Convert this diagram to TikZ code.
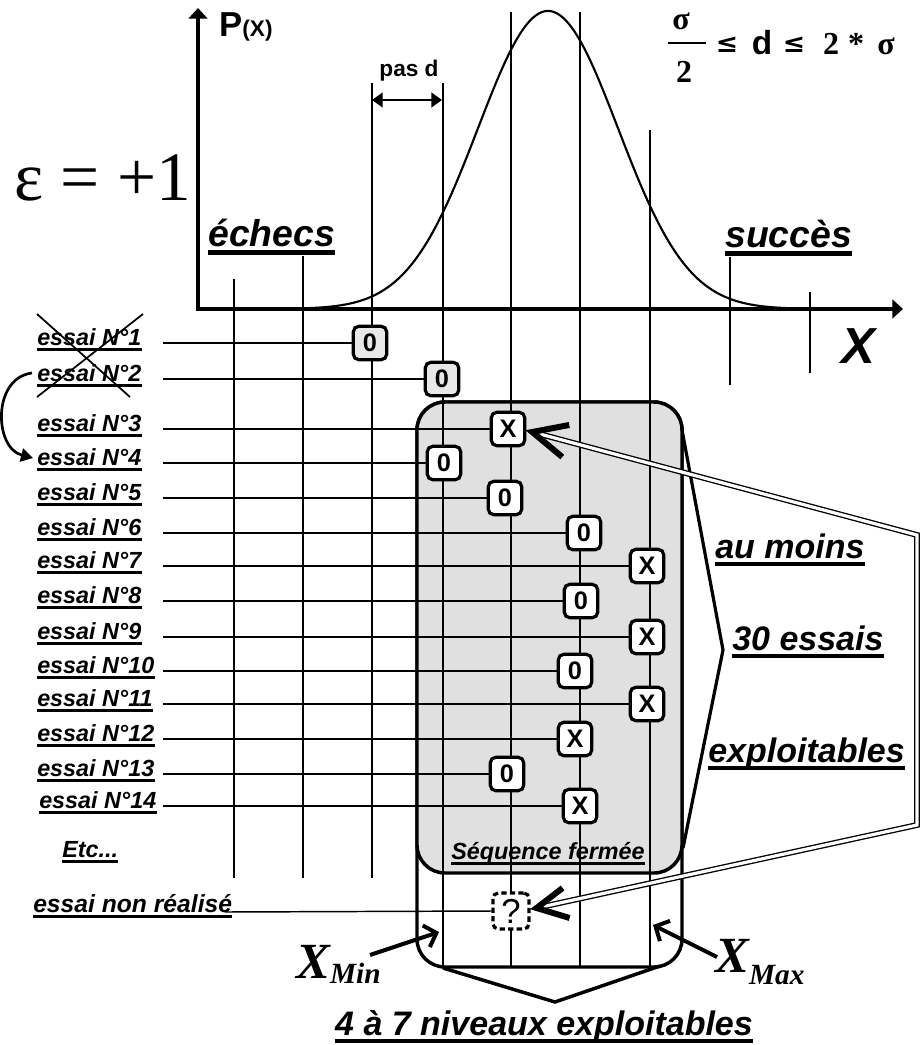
\documentclass[tikz,border=0pt]{standalone}
\usepackage{fontspec}
\setmainfont{Liberation Sans}
\newfontfamily\tnr{Liberation Serif}
\newfontfamily\dvs{DejaVu Serif}
\usetikzlibrary{arrows.meta,calc}
\pgfdeclarelayer{panel}
\pgfdeclarelayer{back}
\pgfsetlayers{panel,back,main}
\newcommand\ul[1]{\setbox0\hbox{#1}\rlap{\rule[-0.24em]{\wd0}{0.12em}}\box0}
\newcommand\fsz[1]{\fontsize{#1}{#1}\selectfont}
\begin{document}
\begin{tikzpicture}[x=0.75pt,y=-0.75pt,
  lbl/.style={anchor=base west, inner sep=0pt, font=\fsz{17.5}\bfseries\itshape},
  head/.style={anchor=base west, inner sep=0pt, font=\fsz{28}\bfseries\itshape},
  big/.style={anchor=base west, inner sep=0pt, font=\fsz{25.5}\bfseries\itshape},
  trial/.style={draw, line width=2.4pt, rounded corners=4pt, minimum size=25pt, inner sep=0pt, font=\fsz{19}\bfseries, fill=white},
  trialgrey/.style={trial, fill=black!9},
  col/.style={line width=1.5pt},
  row/.style={line width=1.1pt},
  uline/.style={line width=2.1pt},
  panelline/.style={line width=2.6pt, rounded corners=21pt},
  fb/.style={anchor=base, inner sep=0pt, font=\tnr\bfseries\fsz{24}},
  dbl/.style={double=white, double distance=2.4pt, line width=1pt},
  barb/.style={line width=4.5pt, line cap=butt, line join=miter},
  xarrow/.style={line width=3pt, -{Straight Barb[length=8pt,width=17pt]}},
  xsym/.style={anchor=base west, inner sep=0pt, font=\tnr\bfseries\itshape\fsz{38}}
]
\useasboundingbox (0,0) rectangle (920,1045);

% ---------- panels ----------
\begin{pgfonlayer}{panel}
  \draw[panelline, fill=white] (417,402) rectangle (682,967);
  \draw[panelline, fill=black!12] (417,402) rectangle (682,873);
\end{pgfonlayer}

% ---------- axes and curve ----------
\draw[line width=2.4pt, {Triangle[length=8pt,width=14pt]}-{Triangle[length=8pt,width=14pt]}]
  (198,8) -- (198,309) -- (903,309);
\draw[line width=1.6pt] plot[domain=290:800, samples=200, smooth]
  (\x,{309-298*exp(-0.5*pow((\x-548)/70,2))});

% ---------- trial boxes ----------
\node[trialgrey] (b1) at (370,343) {0};
\node[trialgrey] (b2) at (442,379) {0};
\node[trial] (b3) at (508,429) {X};
\node[trial] (b4) at (444,463) {0};
\node[trial] (b5) at (505,498) {0};
\node[trial] (b6) at (584,533) {0};
\node[trial] (b7) at (647,566) {X};
\node[trial] (b8) at (581,601) {0};
\node[trial] (b9) at (647,637) {X};
\node[trial] (b10) at (575,671) {0};
\node[trial] (b11) at (647,704) {X};
\node[trial] (b12) at (575,739) {X};
\node[trial] (b13) at (507,774) {0};
\node[trial] (b14) at (580,806) {X};
\node[trial, dashed, dash pattern=on 4pt off 2.4pt, minimum size=27pt, font=\fsz{26}] (q) at (511,911) {?};

% ---------- grid lines ----------
\begin{pgfonlayer}{back}
  \foreach \cx/\ya/\yb in {234/279/878, 303/256/878, 372/83/878, 443/83/967,
      511/12/967, 580/12/967, 650/130/967, 730/257/385, 810/292/373}
    \draw[col] (\cx,\ya) -- (\cx,\yb);
  \foreach \i/\y in {1/343,2/379,3/429,4/463,5/498,6/533,7/566,8/601,9/637,10/671,11/704,12/739,13/774,14/806}
    \draw[row] (163,\y) coordinate (r\i) -- (b\i.west);
  \coordinate (rq) at (225,912);
  \draw[row] (rq) -- (q.west);
\end{pgfonlayer}

% ---------- trial labels ----------
\foreach \i/\y in {1/343,2/379,3/429,4/463,5/498,6/533,7/566,8/601,9/637,10/671,11/704,12/739,13/774}{
  \node[lbl] (l\i) at (37,\y+2) {essai N°\i};
  \draw[uline] ([yshift=-3.4pt]l\i.base west) -- ([yshift=-3.4pt]l\i.base east);
}
\node[lbl] (l14) at (39,808) {essai N°14};
\draw[uline] ([yshift=-3.4pt]l14.base west) -- ([yshift=-3.4pt]l14.base east);
\node[lbl] (etc) at (62,857) {\ul{Etc...}};
\node[lbl, font=\fsz{18.5}\bfseries\itshape] (lq) at (33,912) {\ul{essai non réalisé}};

% cross over trials 1 and 2
\draw[line width=1.3pt] (37,314) -- (130,397);
\draw[line width=1.3pt] (143,314) -- (37,397);

% curved arrow from trial 2 to trial 4
\coordinate (ca) at (32,373);
\coordinate (cb) at (33,458);
\draw[line width=2pt, -{Triangle[length=9pt,width=10pt]}]
  (ca) .. controls (-8,378) and (-6,448) .. (cb);

% ---------- top labels ----------
\node[anchor=base west, inner sep=0pt, font=\fsz{26}\bfseries] (px) at (219,37) {P\fsz{17}(X)};
\node[anchor=base west, inner sep=0pt, font=\tnr\fsz{52}] (eps) at (14,200) {ε = +1};
\node[anchor=base, inner sep=0pt, font=\fsz{17}\bfseries] (pasd) at (409,77) {pas d};
\coordinate (pa) at (372,100);
\coordinate (pb) at (442,100);
\draw[line width=1.8pt, {Triangle[length=8pt,width=11pt]}-{Triangle[length=8pt,width=11pt]}] (pa) -- (pb);
\node[head] (ech) at (208,246) {\ul{échecs}};
\node[head] (suc) at (725,247) {\ul{succès}};
\node[anchor=base, inner sep=0pt, font=\fsz{38}\bfseries\itshape] (xl) at (858,363) {X};

% formula
\node[fb] (s1) at (681,30) {σ};
\draw[line width=1.6pt] (668,43) -- (706,43);
\node[fb] (s2) at (684,83) {2};
\node[anchor=base, inner sep=0pt, font=\dvs\bfseries\fsz{20}] (le1) at (727,53) {≤};
\node[anchor=base, inner sep=0pt, font=\bfseries\fsz{25}] (dd) at (762,55) {d};
\node[anchor=base, inner sep=0pt, font=\dvs\bfseries\fsz{20}] (le2) at (794,53) {≤};
\node[fb] (two) at (831,55) {2};
\node[fb] (star) at (856,55) {*};
\node[fb] (s3) at (886,55) {σ};

% ---------- right bracket and texts ----------
\draw[line width=2.4pt] (682,430) -- (723,650) -- (683,848);
\node[big] (t1) at (715,558) {\ul{au moins}};
\node[big] (t2) at (732,650) {\ul{30 essais}};
\node[big] (t3) at (708,762) {\ul{exploitables}};

% double connectors
\coordinate (tipA) at ($(b3.east)+(6,3)$);
\coordinate (tipB) at ($(q.east)+(6,-3)$);
\coordinate (c1) at (917,535);
\coordinate (c2) at (917,825);
\draw[dbl] (tipA) -- (c1) -- (c2) -- (tipB);
\draw[barb] ($(tipA)+(37,-7)$) -- (tipA) -- ($(tipA)+(30,25)$);
\draw[barb] ($(tipB)+(26,-20)$) -- (tipB) -- ($(tipB)+(33,10)$);

% ---------- bottom ----------
\node[anchor=base, inner sep=0pt, font=\fsz{17.5}\bfseries\itshape] (seq) at (548,859) {\ul{Séquence fermée}};
\draw[line width=2.6pt] (443,968) -- (555,1002) -- (660,966);
\node[anchor=base, inner sep=0pt, font=\fsz{25.5}\bfseries\itshape] (niv) at (544,1035) {\ul{4 à 7 niveaux exploitables}};
\node[xsym] (xmin) at (296,978) {X\fsz{22}\raisebox{-4pt}{Min}};
\node[xsym] (xmax) at (715,972) {X\fsz{22}\raisebox{-9pt}{Max}};
\coordinate (am1) at (370,955);
\coordinate (am2) at (439,932);
\coordinate (aM1) at (717,957);
\coordinate (aM2) at (653,925);
\draw[xarrow] (am1) -- (am2);
\draw[xarrow] (aM1) -- (aM2);
\end{tikzpicture}
\end{document}
